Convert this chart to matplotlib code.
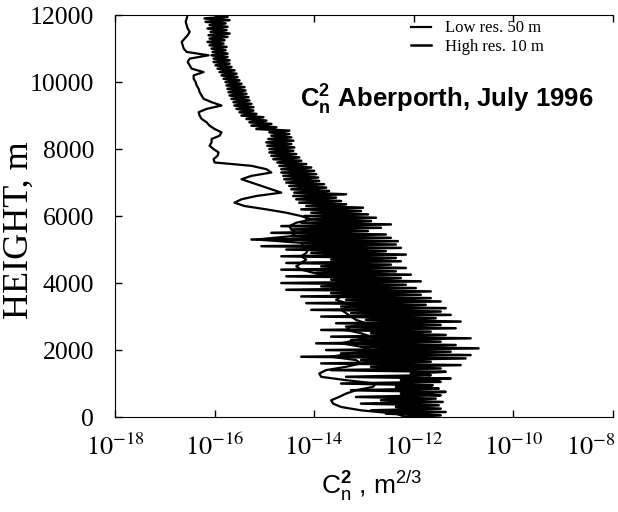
import numpy as np
import matplotlib
matplotlib.use("Agg")
import matplotlib.pyplot as plt
from matplotlib.transforms import ScaledTranslation

# sans math text for the title / x label, the tick labels use stix (Times-like)
plt.rcParams['mathtext.fontset'] = 'custom'
plt.rcParams['mathtext.rm'] = 'Liberation Sans'
plt.rcParams['mathtext.it'] = 'Liberation Sans:italic'
plt.rcParams['mathtext.bf'] = 'Liberation Sans:bold'

# heights (m) of the two profiles
height_low = np.arange(0, 12001, 100)
height_high = np.arange(0, 12001, 50)

# log10(Cn2), low resolution profile (0 .. 12000 m)
logcn2_low = [
    -12.16, -12.36, -13.06, -13.46, -13.62, -13.66, -13.50, -13.36, -13.16, -12.82,
    -12.76, -13.36, -13.86, -13.90, -13.76, -13.36, -13.06, -13.16, -13.66, -13.26,
    -12.86, -13.06, -13.46, -13.16, -12.86, -13.06, -13.36, -13.26, -12.96, -13.16,
    -13.26, -13.36, -13.46, -13.26, -13.36, -13.56, -13.46, -13.26, -13.46, -13.66,
    -13.56, -13.46, -13.66, -14.00, -14.26, -14.36, -14.26, -14.16, -14.26, -14.16,
    -14.12, -14.22, -14.26, -15.16, -14.46, -14.36, -14.46, -14.50, -14.36, -14.06,
    -14.26, -14.56, -14.96, -15.40, -15.60, -15.46, -15.16, -14.66, -14.86, -15.06,
    -15.26, -15.46, -15.26, -14.86, -14.96, -15.26, -16.00, -16.02, -15.94, -15.92,
    -16.02, -16.10, -16.06, -16.06, -15.90, -15.86, -16.00, -16.10, -16.16, -16.26,
    -16.30, -16.32, -16.16, -15.86, -16.06, -16.22, -16.26, -16.30, -16.32, -16.36,
    -16.38, -16.42, -16.42, -16.22, -16.46, -16.50, -16.54, -16.50, -16.12, -16.56,
    -16.62, -16.64, -16.66, -16.60, -16.54, -16.50, -16.54, -16.56, -16.58, -16.56,
    -16.54,
]

# log10(Cn2), high resolution profile (noisy, 0 .. 12000 m)
logcn2_high = [
    -12.16, -11.46, -12.56, -11.36, -12.86, -11.46, -12.36, -11.50, -13.06, -11.42,
    -12.66, -11.56, -13.16, -11.46, -12.26, -11.36, -13.26, -11.50, -12.36, -11.62,
    -13.46, -11.46, -12.26, -11.26, -13.36, -11.66, -12.06, -11.36, -13.66, -11.46,
    -12.86, -11.06, -13.86, -11.66, -13.06, -10.96, -14.26, -10.86, -13.46, -11.26,
    -13.76, -10.70, -13.06, -11.16, -13.96, -11.46, -13.26, -10.86, -13.66, -11.36,
    -12.86, -11.66, -13.86, -11.16, -13.36, -11.46, -13.56, -11.06, -12.96, -11.56,
    -13.86, -11.26, -13.26, -11.46, -14.06, -11.36, -13.46, -11.76, -14.16, -11.46,
    -13.36, -11.66, -14.26, -11.86, -13.66, -11.66, -14.56, -11.96, -13.86, -12.16,
    -14.66, -11.86, -13.66, -12.26, -14.56, -12.06, -13.96, -12.36, -14.66, -12.16,
    -13.86, -12.46, -14.56, -12.26, -13.66, -12.36, -14.66, -12.16, -14.06, -12.56,
    -14.56, -12.26, -15.06, -12.36, -14.26, -12.32, -15.26, -12.46, -14.46, -12.56,
    -14.86, -12.92, -14.46, -12.66, -14.66, -12.46, -14.26, -12.86, -14.16, -12.76,
    -14.20, -12.92, -14.06, -13.06, -14.26, -13.02, -14.16, -13.36, -14.30, -13.46,
    -14.36, -13.56, -14.42, -13.36, -14.40, -13.70, -14.46, -13.76, -14.50, -13.80,
    -14.56, -13.90, -14.60, -13.92, -14.62, -13.96, -14.66, -14.00, -14.66, -14.06,
    -14.70, -14.16, -14.74, -14.26, -14.82, -14.30, -14.86, -14.36, -14.90, -14.42,
    -14.90, -14.40, -14.94, -14.46, -14.96, -14.42, -14.92, -14.46, -14.86, -14.50,
    -14.90, -14.50, -15.16, -14.76, -15.26, -14.86, -15.30, -14.96, -15.36, -15.02,
    -15.46, -15.16, -15.50, -15.22, -15.56, -15.22, -15.60, -15.26, -15.62, -15.30,
    -15.66, -15.32, -15.70, -15.36, -15.72, -15.38, -15.74, -15.40, -15.76, -15.46,
    -15.78, -15.50, -15.82, -15.54, -15.86, -15.56, -15.90, -15.60, -15.94, -15.66,
    -15.98, -15.70, -16.02, -15.70, -16.02, -15.74, -16.06, -15.74, -16.04, -15.78,
    -16.06, -15.76, -16.10, -15.82, -16.14, -15.80, -16.10, -15.74, -16.12, -15.70,
    -16.08, -15.76, -16.14, -15.74, -16.10, -15.78, -16.18, -15.70, -16.20, -15.74,
    -15.96,
]

xticks = [1e-18, 1e-16, 1e-14, 1e-12, 1e-10, 1e-8]
xticklabels = [r'$10^{-18}$', r'$10^{-16}$', r'$10^{-14}$',
               r'$10^{-12}$', r'$10^{-10}$', r'$10^{-8}$']
yticks = [0, 2000, 4000, 6000, 8000, 10000, 12000]

fig = plt.figure(figsize=(6.18, 5.12), dpi=100)
ax = fig.add_axes([0.186, 0.1855, 0.806, 0.785])

ax.plot(10 ** np.array(logcn2_low), height_low, color='black', lw=1.6,
        label='Low res. 50 m')
ax.plot(10 ** np.array(logcn2_high), height_high, color='black', lw=1.8,
        label='High res. 10 m')

ax.set_xscale('log')
ax.set_xlim(1e-18, 1e-8)
ax.set_ylim(0, 12000)
ax.set_xticks(xticks)
ax.set_xticklabels(xticklabels, fontsize=19, math_fontfamily='stix')
ax.xaxis.set_minor_locator(matplotlib.ticker.NullLocator())
ax.set_yticks(yticks)
ax.set_yticklabels([str(v) for v in yticks], fontsize=18.5, family='Liberation Serif')
ax.tick_params(direction='in', top=True, right=False, length=5, width=1)
ax.tick_params(axis='x', pad=13)
ax.tick_params(axis='y', pad=15)
ax.spines['right'].set_visible(False)

# the last label is squeezed inside the page in the original
last = ax.get_xticklabels()[-1]
last.set_transform(last.get_transform() + ScaledTranslation(-0.22, 0, fig.dpi_scale_trans))

ax.set_ylabel('HEIGHT, m', family='Liberation Serif', fontsize=26)
ax.yaxis.set_label_coords(-0.16, 0.465)
ax.set_xlabel(r'$\mathrm{C_n^{\mathbf{2}}}$ , m$^{2/3}$', family='Liberation Sans', fontsize=19)
ax.xaxis.set_label_coords(0.515, -0.13)

ax.text(0.371, 0.789, r'$\mathbf{C_n^2}$ Aberporth, July 1996', transform=ax.transAxes,
        ha='left', va='center', fontsize=18.5, fontweight='bold', family='Liberation Sans')

ax.legend(loc='upper left', bbox_to_anchor=(0.588, 0.995), frameon=False,
          prop={'family': 'Liberation Serif', 'size': 12},
          handlelength=1.2, handletextpad=0.8, labelspacing=0.15,
          borderaxespad=0.0, borderpad=0.2)

fig.savefig('out.png', dpi=100)
plt.close()
